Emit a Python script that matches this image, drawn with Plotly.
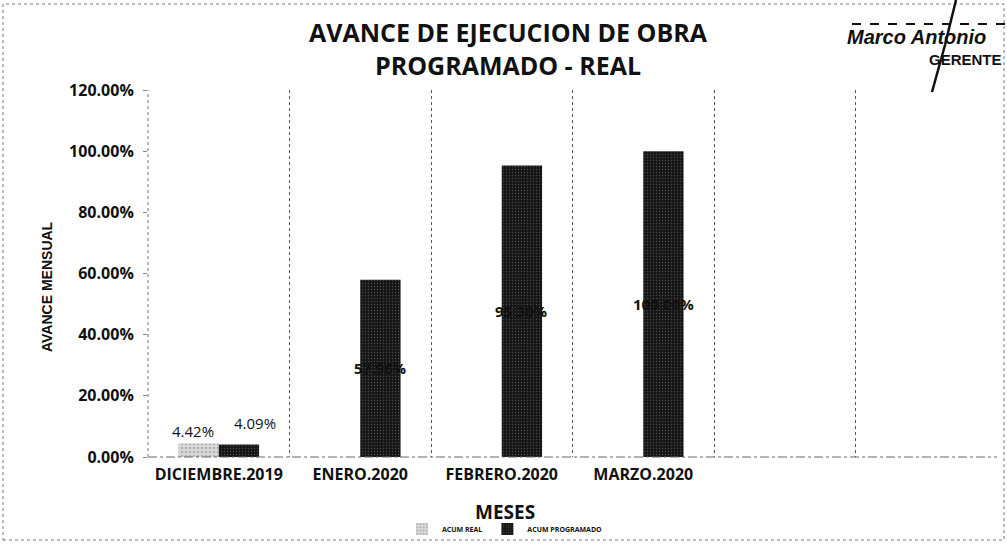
import plotly.graph_objects as go

categories = ["DICIEMBRE.2019", "ENERO.2020", "FEBRERO.2020", "MARZO.2020", " ", "  "]
acum_real = [0.0442, None, None, None, None, None]
acum_programado = [0.0409, 0.5796, 0.9530, 1.0000, None, None]
y_ticks = [0, 0.2, 0.4, 0.6, 0.8, 1.0, 1.2]

def fmt(v):
    return "" if v is None else f"{v*100:.2f}%"

FONT = "Open Sans"
L, R, T, B = 148, 10, 90, 90
PW, PH = 1007 - L - R, 547 - T - B

def px(x):
    return (x - L) / PW

def py(y):
    return (547 - B - y) / PH

fig = go.Figure()
fig.add_trace(go.Bar(
    name="ACUM REAL", x=categories, y=acum_real,
    marker=dict(color="#d9d9d9", line=dict(width=0),
                pattern=dict(shape=".", fgcolor="#8a8a8a", size=4, solidity=0.35)),
    offsetgroup="real",
))
fig.add_trace(go.Bar(
    name="ACUM PROGRAMADO", x=categories, y=acum_programado,
    marker=dict(color="#161616", line=dict(width=0),
                pattern=dict(shape=".", fgcolor="#7a7a7a", size=3, solidity=0.15)),
    offsetgroup="prog",
))

# data labels: small bars labelled above, tall bars labelled in the middle
bar_w = 0.285
for i, v in enumerate(acum_real):
    if v is not None:
        fig.add_annotation(x=i, y=v, xref="x", yref="y", text=fmt(v), showarrow=False,
                           xshift=-bar_w / 2 * PW / 6 - 6, yshift=12, yanchor="middle",
                           font=dict(family=FONT, size=15, color="#111"))
for i, v in enumerate(acum_programado):
    if v is None:
        continue
    if v < 0.2:
        fig.add_annotation(x=i, y=v, xref="x", yref="y", text=fmt(v), showarrow=False,
                           xshift=bar_w / 2 * PW / 6 + 16, yshift=21, yanchor="middle",
                           font=dict(family=FONT, size=15, color="#111"))
    else:
        fig.add_annotation(x=i, y=v / 2, xref="x", yref="y", text=fmt(v), showarrow=False,
                           xshift=bar_w / 2 * PW / 6, yanchor="middle",
                           font=dict(family=FONT, size=15, color="#111", weight="bold"))

fig.update_layout(
    width=1007, height=547,
    paper_bgcolor="white", plot_bgcolor="white",
    margin=dict(l=L, r=R, t=T, b=B, autoexpand=False),
    barmode="group", bargap=0.43, bargroupgap=0,
    font=dict(family=FONT, color="#111"),
    showlegend=True,
    legend=dict(orientation="h", x=px(505), xref="paper", xanchor="center",
                y=py(529), yanchor="middle",
                font=dict(family=FONT, size=7, color="#111", weight="bold"),
                bgcolor="rgba(0,0,0,0)"),
    xaxis=dict(
        type="category", tickson="boundaries", showgrid=True,
        gridcolor="#555", griddash="dot", gridwidth=1,
        showline=False, ticklabelstandoff=6,
        ticks="", tickfont=dict(family=FONT, size=16, color="#111", weight="bold"),
        range=[-0.5, 5.5], automargin=False,
    ),
    yaxis=dict(
        range=[0, 1.2], tickvals=y_ticks, tickformat=".2%",
        showgrid=False, zeroline=False,
        showline=False,
        ticks="outside", ticklen=4, tickcolor="#888", ticklabelstandoff=6,
        tickfont=dict(family=FONT, size=16, color="#111", weight="bold"),
        automargin=False,
    ),
)

# axis titles
fig.add_annotation(text="MESES", xref="paper", yref="paper", x=px(505), y=py(512),
                   xanchor="center", yanchor="middle", showarrow=False,
                   font=dict(family=FONT, size=19, color="#111", weight="bold"))
fig.add_annotation(text="AVANCE MENSUAL", xref="paper", yref="paper", x=px(47), y=py(287),
                   xanchor="center", yanchor="middle", textangle=-90, showarrow=False,
                   font=dict(family="Liberation Sans", size=14, color="#111", weight="bold"))

# chart title
fig.add_annotation(
    text="AVANCE DE EJECUCION DE OBRA<br>PROGRAMADO - REAL",
    xref="paper", yref="paper", x=px(508), y=py(48),
    xanchor="center", yanchor="middle", showarrow=False,
    font=dict(family=FONT, size=25, color="#111", weight="bold"),
)

# signature overlapping the scan
fig.add_annotation(
    text="<i>Marco Antonio</i>", xref="paper", yref="paper",
    x=px(845), y=py(37), xanchor="left", yanchor="middle",
    showarrow=False, font=dict(family="Liberation Sans", size=20, color="#111", weight="bold"),
)
fig.add_annotation(
    text="GERENTE", xref="paper", yref="paper",
    x=px(927), y=py(60), xanchor="left", yanchor="middle",
    showarrow=False, font=dict(family="Liberation Sans", size=15, color="#111", weight="bold"),
)

shapes = [
    # outer frame of the scanned chart
    dict(type="rect", xref="paper", yref="paper",
         x0=px(3), x1=px(1004), y0=py(540), y1=py(4),
         line=dict(color="#777", width=1, dash="dot"), fillcolor="rgba(0,0,0,0)", layer="below"),
    # axis lines (dotted like the scan)
    dict(type="line", xref="paper", yref="paper", x0=0, x1=1, y0=0, y1=0,
         line=dict(color="#666", width=1, dash="dashdot")),
    dict(type="line", xref="paper", yref="paper", x0=0, x1=0, y0=0, y1=1,
         line=dict(color="#777", width=1, dash="dot")),
    # signature marks
    dict(type="line", xref="paper", yref="paper",
         x0=px(852), x1=px(1007), y0=py(24), y1=py(24),
         line=dict(color="#111", width=2, dash="dash")),
    dict(type="path", xref="paper", yref="paper",
         path=f"M {px(932)} {py(92)} L {px(945)} {py(45)} L {px(956)} {py(0)}",
         line=dict(color="#111", width=2.5)),
]
fig.update_layout(shapes=shapes)

fig.write_html("out.html", config={"displayModeBar": False},
               post_script="document.body.style.margin='0';")
